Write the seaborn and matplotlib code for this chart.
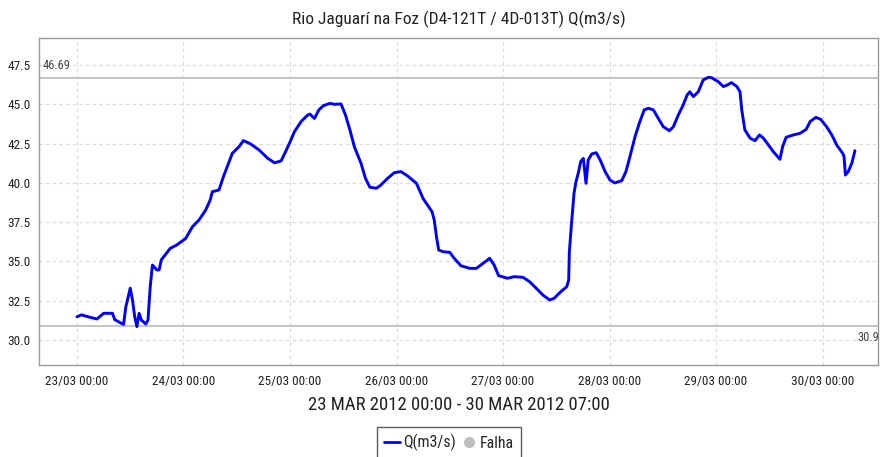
import matplotlib
matplotlib.use("Agg")
import matplotlib.pyplot as plt
from matplotlib.lines import Line2D
import seaborn as sns
import pandas as pd

# ---- data (hours since 23/03/2012 00:00, discharge m3/s) ----
hours = [0, 1, 3, 4.5, 6, 8, 8.5, 10, 10.5, 11, 12, 12.5, 13, 13.5, 14, 14.5, 15.5, 16, 16.5,
         17, 18, 18.5, 19, 21, 22.5, 24.5, 26, 27.5, 29, 30, 30.5, 32, 33, 34, 35, 36.5, 37.5,
         39, 41, 43, 44.5, 46, 47, 48, 49, 50.5, 52, 52.5, 53.5, 54.5, 55.5, 57, 58, 59.5, 60.5,
         61.5, 62.5, 64, 65, 66, 67.5, 68.5, 70, 71.5, 73, 74.5, 76.5, 78, 80, 80.5, 81, 81.5,
         82.5, 84, 85, 86.5, 88.5, 90, 91, 92.5, 93, 94, 95, 97, 98.5, 100.5, 102, 103.5, 105,
         106.5, 107.5, 109, 110.35, 110.8, 110.95, 111.5, 112.0, 112.45, 112.95, 113.5, 114.1,
         114.7, 115.2, 116.0, 117.0, 117.9, 119.0, 120.1, 121.2, 122.75, 123.7, 124.6, 125.75,
         126.7, 127.8, 128.75, 129.9, 131.0, 132.1, 133.5, 134.4, 135.5, 136.6, 137.5, 138.1,
         138.9, 140.0, 141.1, 142.3, 143.0, 144.5, 145.65, 146.55, 147.5, 148.7, 149.4, 149.8,
         150.5, 151.7, 152.8, 153.8, 154.7, 155.8, 156.9, 158.4, 159.0, 159.8, 161.4, 162.9,
         164.3, 165.2, 166.5, 167.6, 168.9, 170.1, 171.2, 172.55, 172.85, 173.15, 173.8, 174.6,
         175.3]
flow = [31.48, 31.6, 31.44, 31.34, 31.7, 31.7, 31.3, 31.06, 31.0, 32.1, 33.3, 32.55, 31.5, 30.85,
        31.7, 31.27, 31.02, 31.27, 33.4, 34.77, 34.46, 34.46, 35.1, 35.83, 36.05, 36.47, 37.2,
        37.64, 38.27, 38.9, 39.44, 39.55, 40.4, 41.14, 41.88, 42.3, 42.69, 42.5, 42.1, 41.56,
        41.28, 41.4, 41.98, 42.6, 43.26, 43.9, 44.32, 44.38, 44.1, 44.64, 44.91, 45.06, 45.0,
        45.02, 44.32, 43.37, 42.3, 41.25, 40.29, 39.72, 39.66, 39.87, 40.29, 40.65, 40.72, 40.44,
        39.97, 39.0, 38.17, 37.64, 36.58, 35.73, 35.62, 35.58, 35.2, 34.73, 34.56, 34.56, 34.77,
        35.09, 35.2, 34.77, 34.1, 33.93, 34.03, 33.99, 33.71, 33.29, 32.86, 32.55, 32.65, 33.07,
        33.39, 33.82, 35.62, 37.64, 39.34, 40.08, 40.61, 41.35, 41.56, 39.97, 41.46, 41.84,
        41.92, 41.46, 40.72, 40.18, 40.0, 40.14, 40.72, 41.67, 42.94, 43.79, 44.64, 44.75, 44.64,
        44.1, 43.58, 43.32, 43.58, 44.32, 44.96, 45.6, 45.8, 45.49, 45.8, 46.55, 46.72, 46.69,
        46.44, 46.13, 46.23, 46.38, 46.13, 45.8, 44.64, 43.37, 42.84, 42.69, 43.05, 42.84, 42.41,
        41.99, 41.5, 42.3, 42.9, 43.05, 43.15, 43.4, 43.9, 44.17, 44.04, 43.58, 43.05, 42.41,
        41.88, 41.67, 40.5, 40.72, 41.25, 42.05]
max_value = 46.69
min_value = 30.9
y_ticks = [30.0, 32.5, 35.0, 37.5, 40.0, 42.5, 45.0, 47.5]
x_tick_days = ["2012-03-23", "2012-03-24", "2012-03-25", "2012-03-26",
               "2012-03-27", "2012-03-28", "2012-03-29", "2012-03-30"]
title = "Rio Jaguarí na Foz (D4-121T / 4D-013T) Q(m3/s)"
x_label = "23 MAR 2012 00:00 - 30 MAR 2012 07:00"

base = pd.Timestamp("2012-03-23 00:00")
df = pd.DataFrame({"time": base + pd.to_timedelta(hours, unit="h"), "Q": flow})

sns.set_theme(style="white")
plt.rcParams['font.family'] = ['Roboto Condensed', 'DejaVu Sans']

fig = plt.figure(figsize=(8.82, 4.57), dpi=100)
ax = fig.add_axes([39/882, 1-365/457, (878-39)/882, (365-38)/457])

sns.lineplot(data=df, x="time", y="Q", ax=ax, color="#0000ff", linewidth=2.1)

ax.axhline(max_value, color="#c4c4c4", linewidth=1.4, zorder=1)
ax.axhline(min_value, color="#c4c4c4", linewidth=1.4, zorder=1)

ax.set_xlim(base - pd.Timedelta(hours=8.56), base + pd.Timedelta(hours=180.5))
ax.set_ylim(28.41, 49.22)

ax.text(0.004, max_value + 0.35, f"{max_value:.2f}", transform=ax.get_yaxis_transform(),
        fontsize=9, color="#444444", va="bottom", ha="left")
ax.text(0.976, min_value - 0.35, f"{min_value}", transform=ax.get_yaxis_transform(),
        fontsize=9, color="#444444", va="top", ha="left", clip_on=False)

ax.set_yticks(y_ticks)
ax.set_yticklabels([f"{v:.1f}" for v in y_ticks])
ticks = [pd.Timestamp(d) for d in x_tick_days]
ax.set_xticks(ticks)
ax.set_xticklabels([t.strftime("%d/%m %H:%M") for t in ticks])

ax.grid(True, color="#d8d8d8", linestyle=(0, (3, 3)), linewidth=0.8)
for s in ax.spines.values():
    s.set_color("#9a9a9a")
    s.set_linewidth(1.0)
ax.tick_params(axis="both", which="both", length=3, width=0.8, color="#9a9a9a",
               labelsize=9.5, labelcolor="#222222", pad=3)
ax.tick_params(axis="x", pad=4)

ax.set_xlabel(x_label, fontsize=13.5, color="#222222", labelpad=6)
ax.set_ylabel("")
ax.set_title(title, fontsize=12.5, color="#222222", pad=10)

handles = [Line2D([0], [0], color="#0000ff", linewidth=2.0),
           Line2D([0], [0], marker="o", color="none", markerfacecolor="#c0c0c0",
                  markeredgecolor="#c0c0c0", markersize=7)]
leg = fig.legend(handles, ["Q(m3/s)", "Falha"], loc="upper center",
                 bbox_to_anchor=(449/882, 1-427/457), ncol=2, frameon=True, fancybox=False,
                 fontsize=11.5, handlelength=1.0, handletextpad=0.2, columnspacing=0.3,
                 borderpad=0.45, borderaxespad=0)
leg.get_frame().set_edgecolor("#333333")
leg.get_frame().set_linewidth(1.0)

fig.savefig("out.png", dpi=100)
